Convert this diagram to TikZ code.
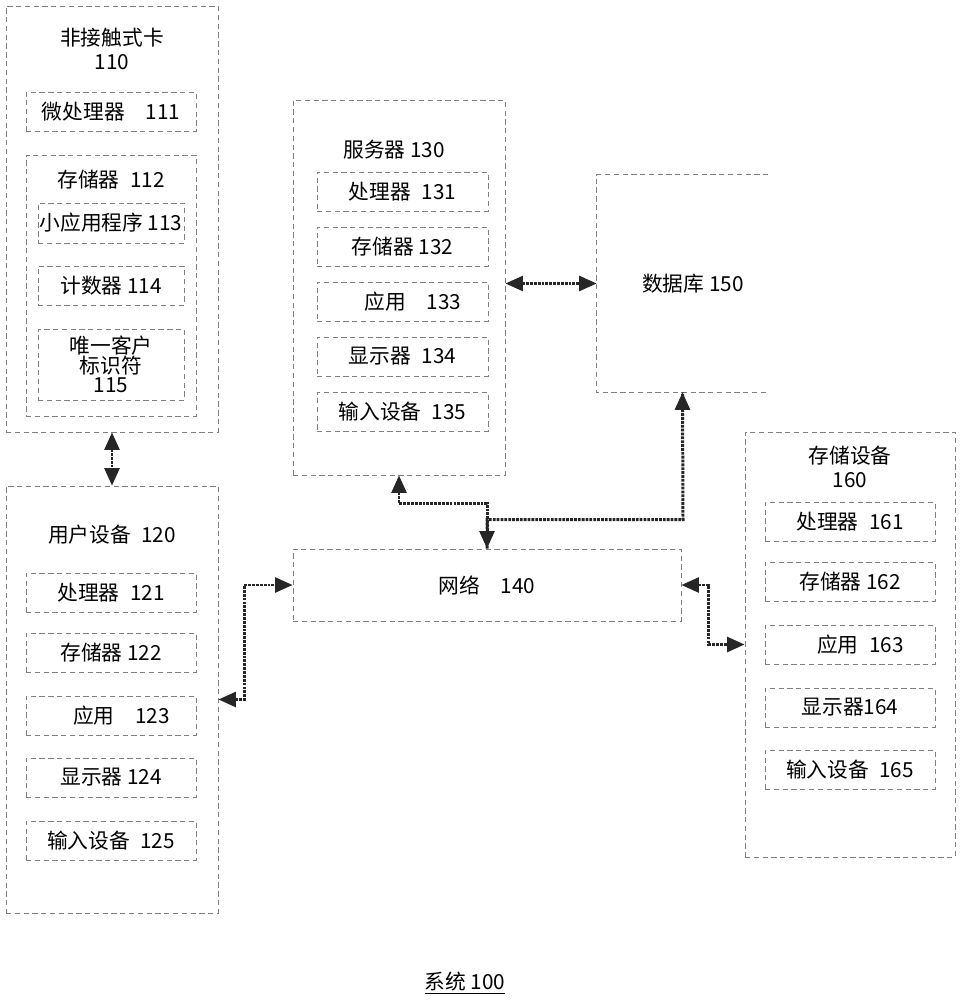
\documentclass[tikz,border=0pt]{standalone}
\usepackage{fontspec}
\setmainfont{Noto Sans CJK SC}
\usetikzlibrary{arrows.meta}

\tikzset{
	outerbox/.style={draw=gray, densely dashed, line width=0.5pt, minimum width=4.24cm, inner sep=0pt},
	innerbox/.style={draw=gray, densely dashed, line width=0.5pt, minimum width=3.4cm, minimum height=0.78cm, inner sep=0pt},
	conn/.style={{Triangle[length=10pt,width=8.5pt]}-{Triangle[length=10pt,width=8.5pt]}, line width=1.7pt, black!85, dash pattern=on 1.6pt off 0.6pt},
}

\begin{document}
\begin{tikzpicture}[x=0.02cm, y=-0.02cm, font=\fontsize{11.8pt}{14pt}\selectfont]
	\useasboundingbox (0,0) rectangle (961,1000);
	\node[outerbox, minimum height=8.52cm] at (112,219) (card) {};
	\node[align=center] at (112,49) (cardt) {非接触式卡\\110};
	\node[innerbox] at (111,112) (mp) {微处理器\quad 111};
	\node[innerbox, minimum height=5.22cm] at (111,285.5) (mem) {};
	\node at (111,180) (memt) {存储器\enspace 112};
	\node[innerbox, minimum width=2.92cm, minimum height=0.8cm] at (111,223) (applet) {小应用程序 113};
	\node[innerbox, minimum width=2.92cm] at (111,285.5) (ctr) {计数器 114};
	\node[innerbox, minimum width=2.92cm, minimum height=1.42cm, align=center] at (111,364.5) (uid) {唯一客户\\[-3pt]标识符\\[-3pt]115};
	\node[outerbox, minimum height=8.54cm] at (112,699.5) (ud) {};
	\node at (112,535) (udt) {用户设备\enspace 120};
	\node[innerbox] at (111,592.5) (udp) {处理器\enspace 121};
	\node[innerbox] at (111,652.5) (udm) {存储器 122};
	\node[innerbox] at (111,715.5) (uda) {\quad 应用\quad 123};
	\node[innerbox] at (111,777.5) (udd) {显示器 124};
	\node[innerbox] at (111,840.5) (udi) {输入设备\enspace 125};
	\node[outerbox, minimum height=7.5cm] at (399,287.5) (srv) {};
	\node at (394,150) (srvt) {服务器 130};
	\node[innerbox, minimum width=3.42cm] at (402.5,191.5) (srvp) {处理器\enspace 131};
	\node[innerbox, minimum width=3.42cm] at (402.5,246.5) (srvm) {存储器 132};
	\node[innerbox, minimum width=3.42cm] at (402.5,301.5) (srva) {\quad 应用\quad 133};
	\node[innerbox, minimum width=3.42cm] at (402.5,356.5) (srvd) {显示器\enspace 134};
	\node[innerbox, minimum width=3.42cm] at (402.5,412) (srvi) {输入设备\enspace 135};
	\node[minimum width=3.42cm, minimum height=4.34cm, inner sep=0pt] at (682.5,283.5) (db) {\quad 数据库 150};
	\draw[gray, densely dashed, line width=0.5pt] (db.north east) -- (db.north west) -- (db.south west) -- (db.south east);
	\node[outerbox, minimum width=7.76cm, minimum height=1.44cm] at (487,585) (net) {网络\quad 140};
	\node[outerbox, minimum width=4.2cm, minimum height=8.5cm] at (850,644.5) (sto) {};
	\node[align=center] at (850,467) (stot) {存储设备\\160};
	\node[innerbox] at (850,521.5) (stop) {处理器\enspace 161};
	\node[innerbox] at (850,581.5) (stom) {存储器 162};
	\node[innerbox] at (850,644.5) (stoa) {\quad 应用\enspace 163};
	\node[innerbox] at (850,707.5) (stod) {显示器164};
	\node[innerbox] at (850,769.5) (stoi) {输入设备\enspace 165};
	\node at (465,983) (sys) {\underline{系统 100}};
	\draw[conn] (card.south) -- (ud.north);
	\draw[conn] (srv.east |- db.west) -- (db.west);
	\draw[conn] (srv.south) -- ++(0,28) -| (net.north);
	\draw[conn, -] (net.north) |- ++(196,-29) -- (db.south);
	\draw[conn, {Triangle[length=10pt,width=8.5pt]}-] (db.south) -- ++(0,5);
	\draw[conn] (ud.east) -- ++(26,0) |- (net.west);
	\draw[conn] (net.east) -- ++(27,0) |- (sto.west);
\end{tikzpicture}
\end{document}
